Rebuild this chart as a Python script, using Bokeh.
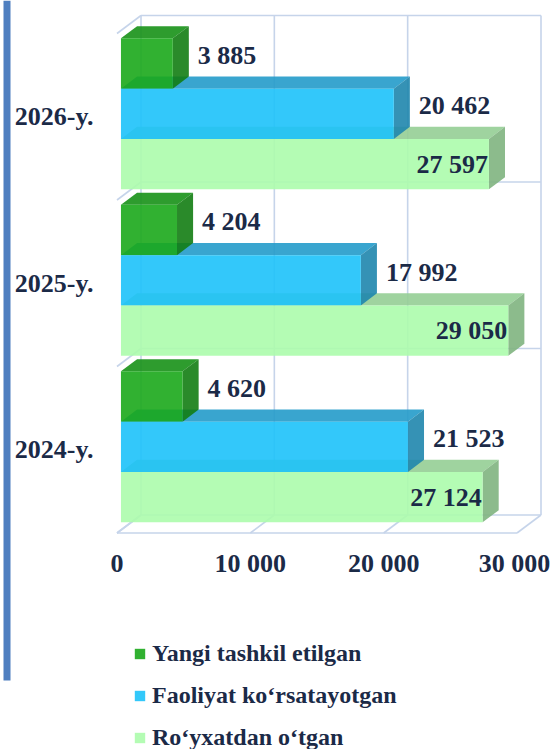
from bokeh.plotting import figure
from bokeh.models import ColumnDataSource, Legend, LegendItem
from bokeh.core.properties import value
from bokeh.embed import file_html
from bokeh.resources import INLINE

# ---------------- data ----------------
years = ["2024-y.", "2025-y.", "2026-y."]
yangi = [4620, 4204, 3885]            # Yangi tashkil etilgan
faoliyat = [21523, 17992, 20462]      # Faoliyat ko‘rsatayotgan
royxat = [27124, 29050, 27597]        # Ro‘yxatdan o‘tgan
series_names = ["Yangi tashkil etilgan", "Faoliyat ko‘rsatayotgan", "Ro‘yxatdan o‘tgan"]
x_ticks = [0, 10000, 20000, 30000]
x_tick_labels = ["0", "10 000", "20 000", "30 000"]

# ---------------- geometry (styles) ----------------
W, H = 551, 749
X0_PX = 116.5              # frame px of value 0 on front plane
UPP = 75.0                 # data units per px horizontally
Y0_PX = 532.5              # frame px (from top) of floor front edge
SLOT_PX = 166.5            # px per category slot

def dpx(px):
    return px * UPP

def dpy(px):
    return px / SLOT_PX

x_start, x_end = -X0_PX * UPP, (W - X0_PX) * UPP
y_start, y_end = (Y0_PX - H) / SLOT_PX, Y0_PX / SLOT_PX

DX, DY = dpx(24), dpy(18)                 # full depth of the 3D box
FX, FY = 0.165 * DX, 0.165 * DY           # bar front offset
BX, BY = 0.835 * DX, 0.835 * DY           # bar back offset
BAR_H = dpy(50.3)

front_cols = ["#1ba91b", "#1dc2fa", "#acfcac"]
top_cols = ["#179117", "#249bca", "#95ce95"]
side_cols = ["#137d13", "#1f86ad", "#7fb47f"]
grid_col = "#c6d4ea"
text_col = "#1b2a47"
FONT = "Liberation Serif"

p = figure(width=W, height=H, x_range=(x_start, x_end), y_range=(y_start, y_end),
           output_backend="svg", toolbar_location=None, min_border=0,
           x_axis_location=None, y_axis_location=None, outline_line_color=None,
           title=None)
p.xgrid.visible = False
p.ygrid.visible = False

# left decorative vertical line
p.quad(left=[dpx(3 - X0_PX)], right=[dpx(10 - X0_PX)], bottom=[dpy(Y0_PX - 680)],
       top=[y_end], fill_color="#4f7fc0", line_color=None)

# ---------------- 3D walls / floor gridlines ----------------
n_cat = len(years)
gx, gy = [], []
xmax = x_ticks[-1]
for t in x_ticks:
    gx.append([t + DX, t + DX]); gy.append([DY, n_cat + DY])      # back wall vertical
    gx.append([t, t + DX]); gy.append([0, DY])                     # floor diagonal
for j in range(n_cat + 1):
    gx.append([DX, xmax + DX]); gy.append([j + DY, j + DY])        # back wall horizontal
    gx.append([0, DX]); gy.append([j, j + DY])                     # left wall diagonal
gx.append([0, xmax]); gy.append([0, 0])                            # floor front edge
p.multi_line(xs=gx, ys=gy, line_color=grid_col, line_width=1.6)

# ---------------- bars ----------------
series_vals = [yangi, faoliyat, royxat]
faces = {"top": [[], [], []], "side": [[], [], []]}
fronts = [dict(left=[], right=[], bottom=[], top=[]) for _ in range(3)]
for k, vals in enumerate(series_vals):
    for i, v in enumerate(vals):
        yb = i + 0.5 - 1.5 * BAR_H + (2 - k) * BAR_H
        yt = yb + BAR_H
        fronts[k]["left"].append(FX)
        fronts[k]["right"].append(v + FX)
        fronts[k]["bottom"].append(yb + FY)
        fronts[k]["top"].append(yt + FY)
        faces["top"][k].append(([FX, v + FX, v + BX, BX], [yt + FY, yt + FY, yt + BY, yt + BY]))
        faces["side"][k].append(([v + FX, v + FX, v + BX, v + BX], [yb + FY, yt + FY, yt + BY, yb + BY]))

for k in range(3):
    p.patches(xs=[f[0] for f in faces["top"][k]], ys=[f[1] for f in faces["top"][k]],
              fill_color=top_cols[k], fill_alpha=0.9, line_color=None)
for k in range(3):
    p.patches(xs=[f[0] for f in faces["side"][k]], ys=[f[1] for f in faces["side"][k]],
              fill_color=side_cols[k], fill_alpha=0.9, line_color=None)
front_renderers = []
for k in range(3):
    r = p.quad(source=ColumnDataSource(fronts[k]), left="left", right="right",
               bottom="bottom", top="top", fill_color=front_cols[k], fill_alpha=0.9,
               line_color=None)
    front_renderers.append(r)

# ---------------- value labels ----------------
def fmt(v):
    return f"{v:,}".replace(",", " ")

lx, ly, lt = [], [], []
for k in range(2):
    for i, v in enumerate(series_vals[k]):
        lx.append(v + dpx(29))
        ly.append((fronts[k]["bottom"][i] + fronts[k]["top"][i]) / 2 + dpy(8))
        lt.append(fmt(v))
p.text(x=lx, y=ly, text=lt, text_font=value(FONT), text_font_style="bold",
       text_font_size="26px", text_color=text_col, text_align="left", text_baseline="middle")

rx, ry, rt = [], [], []
for i, v in enumerate(series_vals[2]):
    rx.append(v + dpx(3))
    ry.append((fronts[2]["bottom"][i] + fronts[2]["top"][i]) / 2)
    rt.append(fmt(v))
p.text(x=rx, y=ry, text=rt, text_font=value(FONT), text_font_style="bold",
       text_font_size="26px", text_color=text_col, text_align="right", text_baseline="middle")

# ---------------- axis-like labels ----------------
cat_y = [i + 0.5 for i in range(n_cat)]
p.text(x=[dpx(93 - X0_PX)] * n_cat, y=cat_y, text=years, text_font=value(FONT),
       text_font_style="bold", text_font_size="26px", text_color=text_col,
       text_align="right", text_baseline="middle")

half_w = 35
tick_offsets = [min(0.0, (W - 2) - (X0_PX + t / UPP + half_w)) for t in x_ticks]
p.text(x=x_ticks, y=[dpy(-30)] * len(x_ticks), text=x_tick_labels, x_offset=tick_offsets,
       text_font=value(FONT), text_font_style="bold", text_font_size="26px",
       text_color=text_col, text_align="center", text_baseline="middle")

# ---------------- legend ----------------
legend = Legend(items=[LegendItem(label=series_names[k], renderers=[front_renderers[k]])
                       for k in range(3)],
                location=(133, -2), orientation="vertical", padding=0, margin=0,
                spacing=15, glyph_width=13, glyph_height=13, label_height=25,
                label_standoff=6, border_line_color=None, background_fill_alpha=0,
                label_text_font=FONT, label_text_font_style="bold",
                label_text_font_size="24px", label_text_color=text_col)
p.add_layout(legend)

open("out.html", "w").write(file_html(p, INLINE))
